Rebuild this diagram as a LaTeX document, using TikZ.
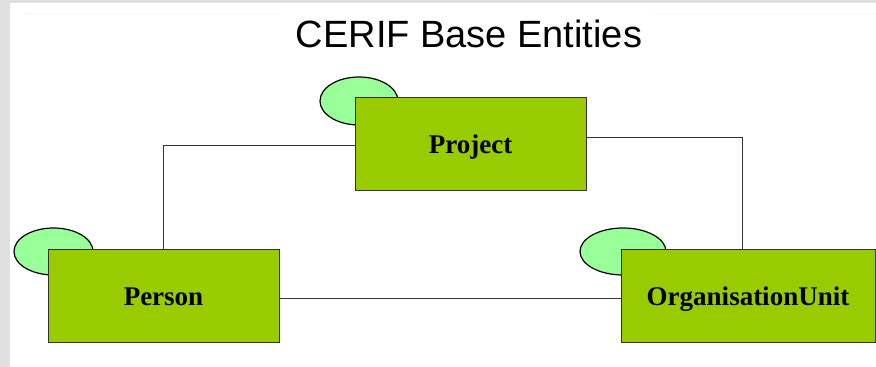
\documentclass[tikz,border=0pt]{standalone}
\usepackage{fontspec}
\setmainfont{Liberation Serif}
\newfontfamily\titlefont{Liberation Sans}
\definecolor{boxgreen}{HTML}{99CC00}
\definecolor{ovalgreen}{HTML}{99FF99}
\definecolor{edgegray}{HTML}{333333}
\definecolor{framegray}{HTML}{E0E0E0}
\tikzset{
  entity/.style={draw=edgegray, fill=boxgreen, line width=1pt, minimum height=93pt,
    text height=19pt, text depth=0pt, font=\fontsize{27}{30}\selectfont\bfseries},
  oval/.style={draw=black, fill=ovalgreen, line width=1.2pt},
  link/.style={draw=edgegray, line width=0.8pt}
}
\begin{document}
\begin{tikzpicture}[x=1pt, y=1pt]
      \useasboundingbox (0,0) rectangle (876,367);
      \fill[framegray] (0,0) rectangle (876,367);
      \fill[white] (10,0) rectangle (876,364);
      \draw[gray!8, line width=1pt] (25,353)--(280,353) (655,353)--(876,353);
      \node[font=\titlefont\fontsize{38}{42}\selectfont] (title) at (469,333) {CERIF Base Entities};
      % ovals behind the boxes
      \draw[oval] (359,266) ellipse (39 and 24);
      \draw[oval] (53.5,115.5) ellipse (39.5 and 23.5);
      \draw[oval] (623,115.5) ellipse (43 and 23.5);
      % links
      \coordinate (projL) at (355,222);
      \coordinate (projR) at (586,230);
      \coordinate (orgT) at (742,118);
      \draw[link] (projL) -| (163.5,117);
      \draw[link] (projR) -| (orgT);
      \draw[link] (279,69) -- (621,69);
      % entities
      \node[entity, minimum width=231pt] (project) at (470.5,222.5) {Project};
      \node[entity, minimum width=231pt] (person) at (163.5,70.5) {Person};
      \node[entity, minimum width=254pt] (orgunit) at (748,71) {OrganisationUnit};
    \end{tikzpicture}
\end{document}
